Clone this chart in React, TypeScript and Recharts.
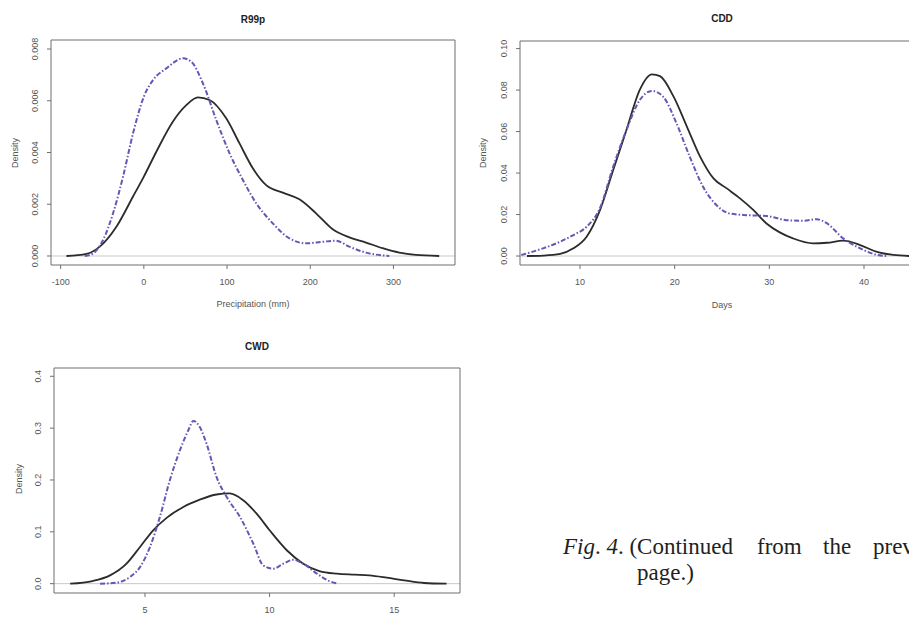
import { LineChart, Line, XAxis, YAxis, ReferenceLine } from 'recharts'

// R99p (precipitation, mm)
const r99pObsX = [-93, -69, -53, -33, -13, 0, 15, 35, 51, 65, 79, 99, 115, 131, 147, 167, 187, 207, 227, 247, 267, 287, 307, 327, 355]
const r99pObsY = [0, 0.00008, 0.00036, 0.00113, 0.0023, 0.00307, 0.00403, 0.0052, 0.00583, 0.00613, 0.00603, 0.00532, 0.00435, 0.00339, 0.00274, 0.00245, 0.00219, 0.00165, 0.00103, 0.00072, 0.00052, 0.0003, 0.00013, 0.00004, 0]
const r99pSimX = [-71, -61, -49, -37, -25, -13, 0, 11, 27, 47, 57, 71, 87, 103, 119, 135, 155, 175, 195, 215, 231, 247, 267, 295]
const r99pSimY = [0, 0.0001, 0.00062, 0.00165, 0.00307, 0.00474, 0.00616, 0.0068, 0.00725, 0.00764, 0.00751, 0.00667, 0.00526, 0.00397, 0.00294, 0.00204, 0.00126, 0.00068, 0.00049, 0.00055, 0.00059, 0.00036, 0.00013, 0]

// CDD (days)
const cddObsX = [4.4, 6.1, 7.9, 9.3, 10.7, 12.1, 13.5, 14.9, 16.3, 17.6, 18.45, 19.9, 21.3, 22.7, 24.1, 25.5, 26.9, 28.3, 29.7, 31.1, 32.5, 34.6, 36.1, 37.8, 39.6, 41.3, 43.1, 44.9]
const cddObsY = [0, 0.0002, 0.001, 0.0037, 0.0093, 0.022, 0.0414, 0.0607, 0.08, 0.0876, 0.0867, 0.0767, 0.0623, 0.0478, 0.0374, 0.0326, 0.0278, 0.0222, 0.0157, 0.0114, 0.0085, 0.0061, 0.0064, 0.0074, 0.0053, 0.0021, 0.0005, 0]
const cddSimX = [3.8, 6.1, 7.9, 9.3, 10.7, 12.1, 13.5, 14.9, 16.3, 17.6, 18.8, 20.2, 21.6, 23.0, 24.4, 25.8, 27.6, 29.7, 31.8, 33.6, 35.0, 36.1, 37.8, 39.6, 41.0, 42.4]
const cddSimY = [0.0005, 0.0037, 0.0069, 0.0101, 0.0141, 0.023, 0.043, 0.0607, 0.0751, 0.0796, 0.0767, 0.0639, 0.0478, 0.0334, 0.0246, 0.0205, 0.0197, 0.0193, 0.0173, 0.017, 0.0177, 0.0157, 0.0085, 0.0037, 0.001, 0]

// CWD (days)
const cwdObsX = [2.0, 2.9, 3.6, 4.26, 4.8, 5.33, 5.87, 6.54, 7.2, 7.87, 8.4, 8.94, 9.48, 10.0, 10.7, 11.35, 12.0, 12.7, 13.4, 14.0, 14.7, 15.4, 16.2, 17.1]
const cwdObsY = [0, 0.005, 0.016, 0.0386, 0.0707, 0.103, 0.127, 0.148, 0.162, 0.172, 0.174, 0.161, 0.135, 0.103, 0.064, 0.0386, 0.0244, 0.0193, 0.0174, 0.016, 0.0116, 0.0064, 0.0013, 0]
const cwdSimX = [3.2, 3.86, 4.4, 4.8, 5.2, 5.6, 6.0, 6.4, 6.74, 6.94, 7.2, 7.47, 7.87, 8.28, 8.81, 9.35, 9.75, 10.15, 10.55, 10.95, 11.35, 11.9, 12.4, 12.75]
const cwdSimY = [0, 0.002, 0.0129, 0.032, 0.0707, 0.129, 0.2, 0.257, 0.296, 0.314, 0.302, 0.27, 0.206, 0.167, 0.129, 0.077, 0.035, 0.029, 0.0386, 0.046, 0.0386, 0.0193, 0.005, 0]

const r99pXTicks = [-100, 0, 100, 200, 300]
const r99pYTicks = [0, 0.002, 0.004, 0.006, 0.008]
const cddXTicks = [10, 20, 30, 40]
const cddYTicks = [0, 0.02, 0.04, 0.06, 0.08, 0.1]
const cwdXTicks = [5, 10, 15]
const cwdYTicks = [0, 0.1, 0.2, 0.3, 0.4]

const zip = (xs: number[], ys: number[]) => xs.map((x, i) => ({ x, y: ys[i] }))

const FONT = '"Liberation Sans", Arial, sans-serif'
const FRAME = '#6f6f6f'
const TICK_TEXT = '#555'
const PURPLE = '#6a54b4'

function XTick({ x, y, payload }: any) {
  return (
    <text x={x} y={y} textAnchor="middle" fontSize={9} fontFamily={FONT} fill={TICK_TEXT}>
      {payload.value}
    </text>
  )
}

function makeYTick(digits: number) {
  return function YTick({ x, y, payload }: any) {
    return (
      <text x={x} y={y} transform={`rotate(-90, ${x}, ${y})`} textAnchor="middle" fontSize={9} fontFamily={FONT} fill={TICK_TEXT}>
        {Number(payload.value).toFixed(digits)}
      </text>
    )
  }
}

interface PanelProps {
  left: number
  top: number
  width: number
  height: number
  // plot box edges inside the chart
  box: { top: number; right: number; bottom: number; left: number }
  xDomain: [number, number]
  yDomain: [number, number]
  xTicks: number[]
  yTicks: number[]
  digits: number
  obs: { x: number; y: number }[]
  sim: { x: number; y: number }[]
}

function Panel({ left, top, width, height, box, xDomain, yDomain, xTicks, yTicks, digits, obs, sim }: PanelProps) {
  const margin = { top: box.top - 1, right: box.right - 1, bottom: 0, left: 0 }
  return (
    <div style={{ position: 'absolute', left, top }}>
      <LineChart width={width} height={height} margin={margin}>
        <XAxis dataKey="x" type="number" domain={xDomain} ticks={xTicks} allowDataOverflow
          height={box.bottom} tickSize={4} tickMargin={16} stroke={FRAME} tick={<XTick />} />
        <XAxis xAxisId="top" orientation="top" dataKey="x" type="number" domain={xDomain} allowDataOverflow
          height={1} tick={false} tickLine={false} stroke={FRAME} />
        <YAxis type="number" domain={yDomain} ticks={yTicks} allowDataOverflow
          width={box.left} tickSize={4} tickMargin={9} stroke={FRAME} tick={makeYTick(digits)} />
        <YAxis yAxisId="right" orientation="right" type="number" domain={yDomain} allowDataOverflow
          width={1} tick={false} tickLine={false} stroke={FRAME} />
        <ReferenceLine y={0} stroke="#c8c8c8" strokeWidth={1} />
        <Line data={obs} dataKey="y" type="monotone" stroke="#2b2b2b" strokeWidth={1.8}
          dot={false} isAnimationActive={false} />
        <Line data={sim} dataKey="y" type="monotone" stroke={PURPLE} strokeWidth={2}
          strokeDasharray="5 2 1.5 2" dot={false} isAnimationActive={false} />
      </LineChart>
    </div>
  )
}

const labelStyle = { fontFamily: FONT, fontSize: 9, fill: '#555' }
const titleStyle = { fontFamily: FONT, fontSize: 10, fontWeight: 700, fill: '#222' }

export default function App() {
  return (
    <div style={{ position: 'relative', width: 917, height: 637, margin: -8, overflow: 'hidden', background: '#fff' }}>
      <Panel left={0} top={0} width={470} height={320}
        box={{ top: 40, right: 15, bottom: 55, left: 51 }}
        xDomain={[-111.6, 374]} yDomain={[-0.000348, 0.008348]}
        xTicks={r99pXTicks} yTicks={r99pYTicks} digits={3}
        obs={zip(r99pObsX, r99pObsY)} sim={zip(r99pSimX, r99pSimY)} />
      <Panel left={460} top={0} width={470} height={320}
        box={{ top: 41, right: 6, bottom: 55, left: 60 }}
        xDomain={[3.66, 46.34]} yDomain={[-0.00433, 0.10366]}
        xTicks={cddXTicks} yTicks={cddYTicks} digits={2}
        obs={zip(cddObsX, cddObsY)} sim={zip(cddSimX, cddSimY)} />
      <Panel left={0} top={320} width={470} height={317}
        box={{ top: 48, right: 10, bottom: 44, left: 54 }}
        xDomain={[1.35, 17.64]} yDomain={[-0.018, 0.416]}
        xTicks={cwdXTicks} yTicks={cwdYTicks} digits={1}
        obs={zip(cwdObsX, cwdObsY)} sim={zip(cwdSimX, cwdSimY)} />

      <svg width={917} height={637} style={{ position: 'absolute', left: 0, top: 0, pointerEvents: 'none' }}>
        <text x={253} y={23} textAnchor="middle" style={titleStyle}>R99p</text>
        <text x={722} y={22} textAnchor="middle" style={titleStyle}>CDD</text>
        <text x={257} y={350} textAnchor="middle" style={titleStyle}>CWD</text>

        <text x={253} y={307} textAnchor="middle" style={labelStyle}>Precipitation (mm)</text>
        <text x={722} y={308} textAnchor="middle" style={labelStyle}>Days</text>
        <text x={257} y={635} textAnchor="middle" style={labelStyle}>Days</text>

        <text x={18} y={153} textAnchor="middle" transform="rotate(-90, 18, 153)" style={labelStyle}>Density</text>
        <text x={486} y={153} textAnchor="middle" transform="rotate(-90, 486, 153)" style={labelStyle}>Density</text>
        <text x={22} y={479} textAnchor="middle" transform="rotate(-90, 22, 479)" style={labelStyle}>Density</text>

        <g fontFamily='"Liberation Serif", "Times New Roman", serif' fontSize={23} fill="#222">
          <text x={563} y={554}><tspan fontStyle="italic">Fig</tspan>. <tspan fontStyle="italic">4</tspan>. (Continued</text>
          <text x={757} y={554}>from</text>
          <text x={823} y={554}>the</text>
          <text x={873} y={554}>previous</text>
          <text x={637} y={580}>page.)</text>
        </g>
      </svg>
    </div>
  )
}
